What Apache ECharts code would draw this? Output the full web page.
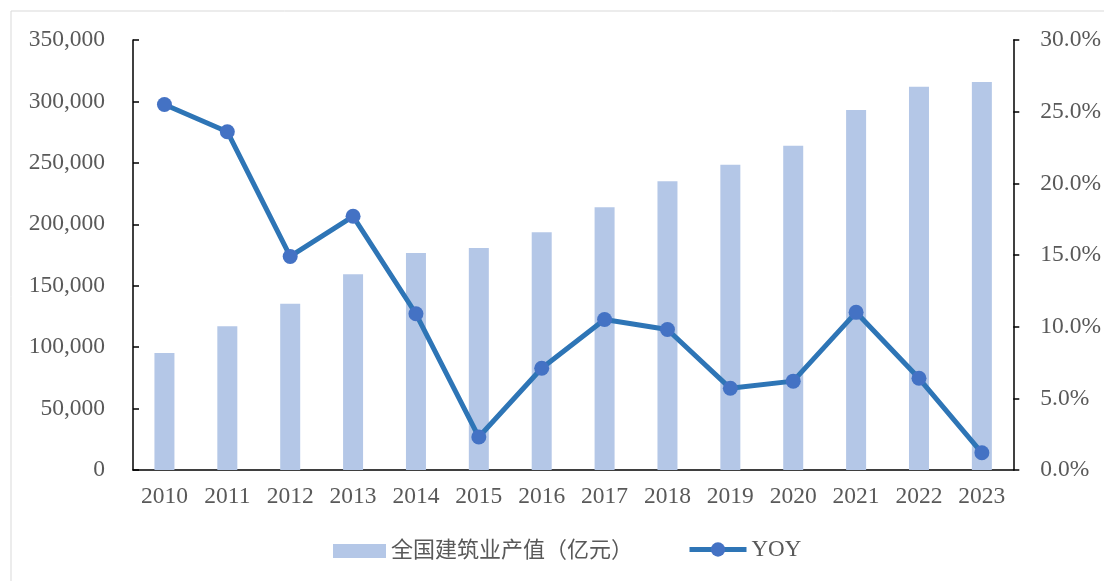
<!DOCTYPE html>
<html>
<head>
<meta charset="utf-8">
<script src="https://cdn.jsdelivr.net/npm/echarts@6/dist/echarts.min.js"></script>
<style>
  html, body { margin: 0; padding: 0; background: #fff; }
  #main { width: 1104px; height: 581px; }
</style>
</head>
<body>
<div id="main"></div>
<script>
// 年份
var years = ['2010', '2011', '2012', '2013', '2014', '2015', '2016', '2017', '2018', '2019', '2020', '2021', '2022', '2023'];
// 全国建筑业产值（亿元）
var outputValue = [95206, 117060, 135303, 159313, 176713, 180757, 193567, 213954, 235086, 248443, 263947, 293079, 311980, 315912];
// 同比增速 %
var yoyValue = [25.5, 23.6, 14.9, 17.7, 10.9, 2.3, 7.1, 10.5, 9.8, 5.7, 6.2, 11.0, 6.4, 1.2];

var barName = '全国建筑业产值（亿元）';
var lineName = 'YOY';

var textColor = '#595959';
var serif = '"Liberation Serif", "Times New Roman", "Noto Sans CJK SC", serif';

var myChart = echarts.init(document.getElementById('main'));
myChart.setOption({
    animation: false,
    backgroundColor: '#fff',
    textStyle: { fontFamily: serif },
    graphic: [{
        type: 'rect',
        shape: { x: 11, y: 11, width: 1110, height: 600 },
        style: { fill: null, stroke: '#d9d9d9', lineWidth: 1 },
        silent: true
    }],
    grid: {
        left: 133,
        right: 90,
        top: 40,
        bottom: 111
    },
    legend: [
        {
            left: 328,
            top: 535,
            itemWidth: 53,
            itemHeight: 14,
            textStyle: { color: textColor, fontSize: 22, fontFamily: serif },
            data: [{ name: barName, icon: 'rect' }]
        },
        {
            left: 682,
            top: 533,
            itemWidth: 57,
            itemHeight: 18,
            textStyle: { color: textColor, fontSize: 23, fontFamily: serif },
            data: [{
                name: lineName,
                lineStyle: { width: 5, color: '#2E75B6' },
                itemStyle: { color: '#4472C4' }
            }]
        }
    ],
    xAxis: {
        type: 'category',
        data: years,
        axisLine: { lineStyle: { color: '#000', width: 1.5 } },
        axisTick: { show: false },
        axisLabel: {
            color: textColor,
            fontSize: 23.5,
            margin: 15,
            fontFamily: serif
        }
    },
    yAxis: [
        {
            type: 'value',
            min: 0,
            max: 350000,
            interval: 50000,
            splitLine: { show: false },
            axisLine: { show: true, lineStyle: { color: '#000', width: 1.5 } },
            axisTick: { show: true, inside: true, length: 6, lineStyle: { color: '#000', width: 1.5 } },
            axisLabel: {
                color: textColor,
                fontSize: 23.5,
                margin: 28,
                fontFamily: serif,
                formatter: function (v) { return v.toLocaleString('en-US'); }
            }
        },
        {
            type: 'value',
            min: 0,
            max: 30,
            interval: 5,
            position: 'right',
            splitLine: { show: false },
            axisLine: { show: true, lineStyle: { color: '#000', width: 1.5 } },
            axisTick: { show: true, inside: false, length: 6, lineStyle: { color: '#000', width: 1.5 } },
            axisLabel: {
                color: textColor,
                fontSize: 23.5,
                margin: 27,
                fontFamily: serif,
                formatter: function (v) { return v.toFixed(1) + '%'; }
            }
        }
    ],
    series: [
        {
            name: barName,
            type: 'bar',
            yAxisIndex: 0,
            barWidth: 20,
            itemStyle: { color: '#B4C7E7' },
            data: outputValue
        },
        {
            name: lineName,
            type: 'line',
            yAxisIndex: 1,
            symbol: 'circle',
            symbolSize: 15,
            lineStyle: { color: '#2E75B6', width: 5 },
            itemStyle: { color: '#4472C4' },
            data: yoyValue
        }
    ]
});
</script>
</body>
</html>
